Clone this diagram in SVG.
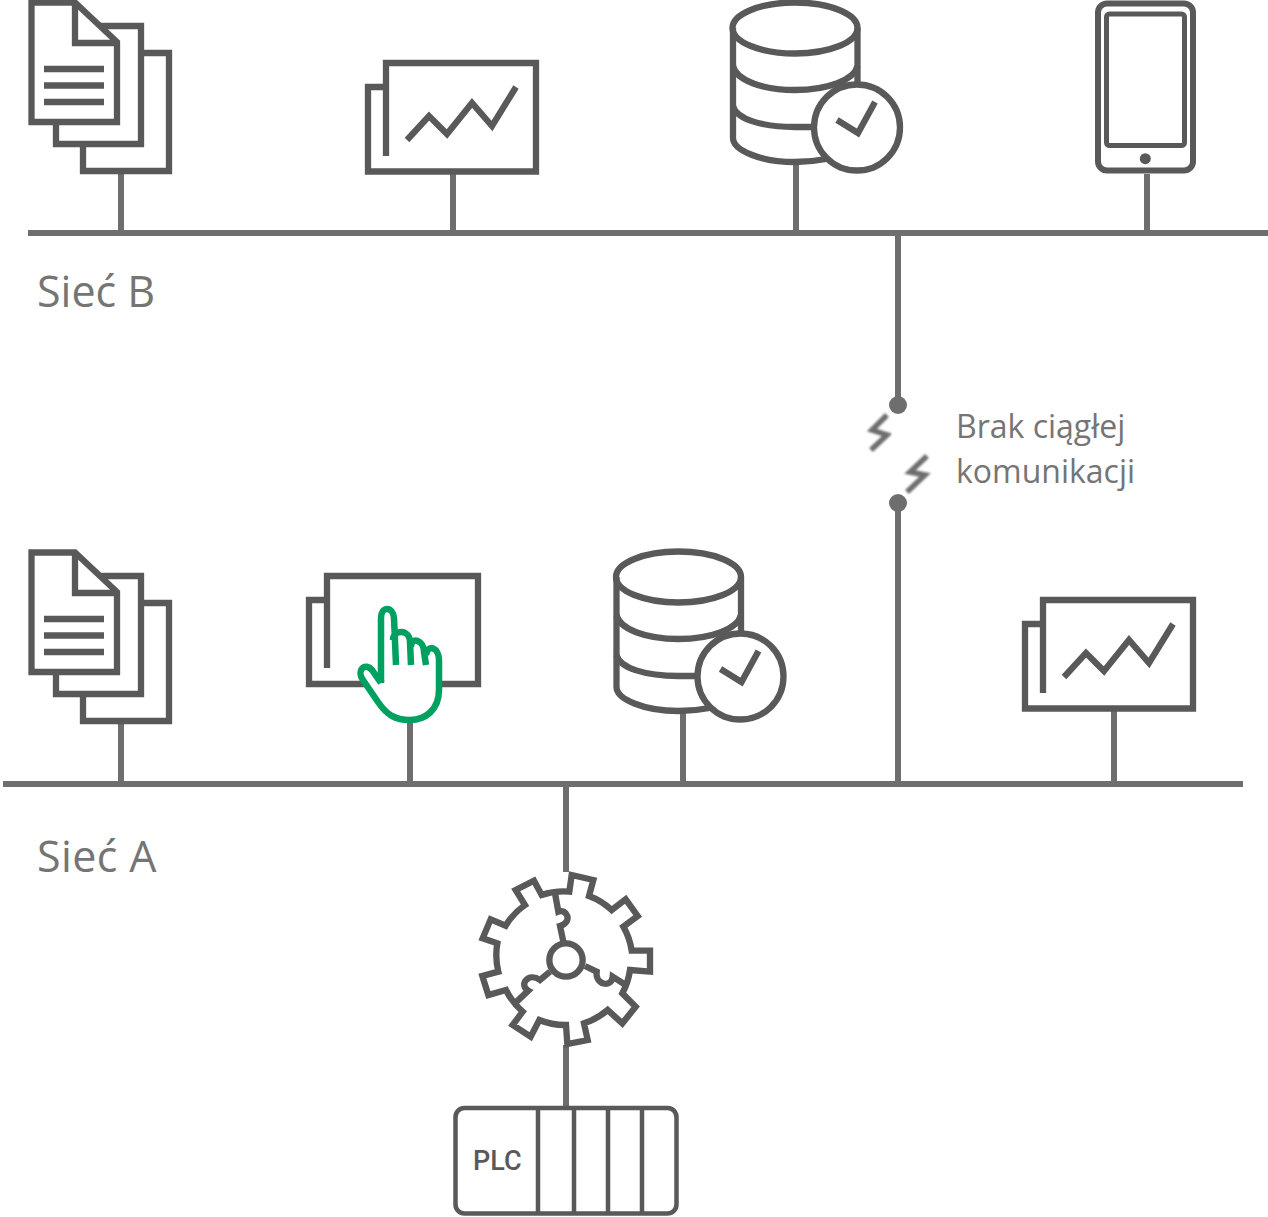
<svg xmlns="http://www.w3.org/2000/svg" xmlns:xlink="http://www.w3.org/1999/xlink" width="1268" height="1217" viewBox="0 0 1268 1217">
<style>
.i{fill:none;stroke:#595959;stroke-width:6.300;stroke-linejoin:miter}
.f{fill:#fff;stroke:#595959;stroke-width:6.300}
.d{fill:none;stroke:#595959;stroke-width:6}
.c{fill:none;stroke:#6e6e6e;stroke-width:6}
.b{fill:none;stroke:#6e6e6e;stroke-width:5.500;filter:url(#blur)}
.t{font-family:"Open Sans","Noto Sans",sans-serif;fill:#757575}
</style>
<defs>
<filter id="blur" x="-30%" y="-30%" width="160%" height="160%"><feGaussianBlur stdDeviation="0.9"/></filter>
<g id="docs">
<path class="i" d="M83 144V171H169V53H141"/>
<path class="i" d="M56 121V144H141V26H100"/>
<path class="f" d="M31.500 2.500H75L117 42V122H31.500Z"/>
<path class="i" d="M75 3V43H117"/>
<path class="i" d="M44 69H104M44 85.500H104M44 102H104"/>
</g>
<g id="chart">
<path class="i" d="M386 156V63H536V171.500H368V87H386"/>
<path class="i" d="M407 140L429 116L447 134L472 103L492 126L516 87"/>
</g>
<g id="db">
<path class="i" d="M733 28V138C733 150 760 162 795 162C806 162 816 161 826 159"/>
<ellipse class="i" cx="795" cy="28" rx="62.500" ry="25.500"/>
<path class="i" d="M857.500 28V90"/>
<path class="i" d="M733 66C736 80 762 90 795 90C828 90 854 80 857.500 66"/>
<path class="i" d="M733 106C736 119 762 127 795 127H816"/>
<circle class="f" cx="857" cy="127.500" r="43"/>
<path class="i" d="M837 120L858 133L875 102"/>
</g>
</defs>

<g id="connectors">
<path class="c" d="M28 233H1268"/>
<path class="c" d="M3 784H1243"/>
<path class="c" d="M121 172V233M453 173V233M796 162V233M1147 174V233"/>
<path class="c" d="M898 233V405M898 503V784"/>
<path class="c" d="M121 722V784M410 722V784M683 711V784M1114 709V784"/>
<path class="c" d="M566 784V872M566 1045V1107"/>
<circle cx="898" cy="405" r="9" fill="#6e6e6e"/>
<circle cx="898" cy="503" r="9" fill="#6e6e6e"/>
<path class="b" d="M887 415L872 430L887 435L871 450"/>
<path class="b" d="M927 456L910 472L925 475L907 492"/>
</g>

<g id="docs-b"><use xlink:href="#docs" href="#docs"/></g>
<g id="chart-b"><use xlink:href="#chart" href="#chart"/></g>
<g id="db-b"><use xlink:href="#db" href="#db"/></g>
<g id="tablet">
<rect class="d" x="1098" y="3.500" width="95" height="167" rx="9"/>
<rect class="d" x="1106.500" y="14" width="78" height="131.500" rx="3" style="stroke-width:5"/>
<circle cx="1145.300" cy="158.700" r="5.500" fill="#595959"/>
</g>

<g id="docs-a"><use xlink:href="#docs" href="#docs" y="550"/></g>
<g id="touch">
<path class="i" d="M327 668V576H478V684H309V600H327"/>
<path d="M381 683V618C381 606 393 606 394 618L396 665M393 640C393 629 410 629 410 642L411 665M411 647C411 636 424 640 424 652L426 665M426 655C428 643 439 648 439 660V690C439 710 425 720 410 720C395 720 387 715 378 702L363 680C356 670 365 662 372 670L381 683" fill="#fff" stroke="none"/>
<path d="M381 683V618C381 606 393 606 394 618L396 665M393 640C393 629 410 629 410 642L411 665M411 647C411 636 424 640 424 652L426 665M426 655C428 643 439 648 439 660V690C439 710 425 720 410 720C395 720 387 715 378 702L363 680C356 670 365 662 372 670L381 683" fill="none" stroke="#00a160" stroke-width="6.500"/>
</g>
<g id="db-a"><use xlink:href="#db" href="#db" x="-116.500" y="549"/></g>
<g id="chart-a"><use xlink:href="#chart" href="#chart" x="657" y="537"/></g>

<g id="gear" transform="translate(460 860) scale(.33333)">
<path d="M335 45L400 60L387 108A205 205 0 0 1 455 150L497 118L533 168L490 200A205 205 0 0 1 515 272H570V335L510 330A205 205 0 0 1 487 400L527 440L487 490L443 450A205 205 0 0 1 372 490L383 540L322 552L318 495A205 205 0 0 1 238 480L212 530L158 495L188 455A205 205 0 0 1 138 390L85 405L67 348L115 335A205 205 0 0 1 112 250L68 235L92 178L137 197A205 205 0 0 1 195 135L167 90L222 62L245 105A205 205 0 0 1 328 95Z" fill="none" stroke="#595959" stroke-width="19"/>
<path d="M285 100L295 155C320 145 340 185 300 198L310 245M375 318L410 335C405 375 455 385 458 350L497 375M270 335L240 360C205 335 175 375 205 392L170 425" fill="none" stroke="#595959" stroke-width="19"/>
<circle cx="318" cy="300" r="50" fill="none" stroke="#595959" stroke-width="19"/>
</g>

<g id="plc">
<rect x="455.500" y="1108" width="221" height="105.500" rx="9" fill="none" stroke="#595959" stroke-width="4.500"/>
<path d="M538 1108V1213M574 1108V1213M608 1108V1213M642 1108V1213" fill="none" stroke="#595959" stroke-width="4.500"/>
<text x="473" y="1170" font-family="Roboto,sans-serif" font-size="27" font-weight="500" fill="#595959">PLC</text>
</g>

<text class="t" x="37" y="307" font-size="43">Sieć B</text>
<text class="t" x="37" y="872" font-size="43" letter-spacing="0.400">Sieć A</text>
<text class="t" x="956" y="438" font-size="32">Brak ciągłej</text>
<text class="t" x="956" y="483" font-size="32">komunikacji</text>
</svg>
